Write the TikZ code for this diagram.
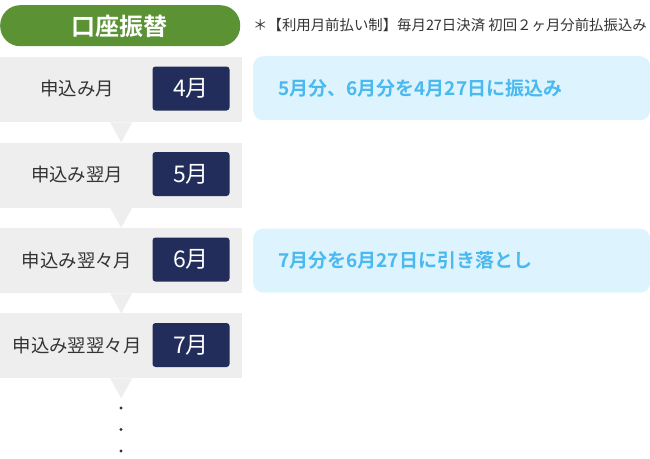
\documentclass[tikz,border=0pt]{standalone}
\usepackage{fontspec}
\setmainfont{Noto Sans CJK JP}
\newfontfamily\jpbold{Noto Sans CJK JP Bold}
\newfontfamily\jplight{Noto Sans CJK JP Light}
\definecolor{pillgreen}{HTML}{5A9234}
\definecolor{bandgray}{HTML}{EEEEEE}
\definecolor{navy}{HTML}{222D5B}
\definecolor{skybg}{HTML}{DDF3FD}
\definecolor{skytext}{HTML}{4AB9EF}
\definecolor{txtgray}{HTML}{333333}
\begin{document}
\begin{tikzpicture}[x=1pt,y=-1pt,
  band/.style={fill=bandgray, minimum width=242pt, minimum height=65pt, inner sep=0pt, anchor=north west},
  monthbox/.style={fill=navy, rounded corners=3pt, minimum width=77pt, minimum height=44pt, inner sep=0pt, text=white, font=\fontsize{23}{25}\selectfont},
  lab/.style={text=txtgray, font=\fontsize{18.4}{20}\selectfont, inner sep=0pt},
  infobox/.style={fill=skybg, rounded corners=10pt, minimum width=397pt, minimum height=64pt, inner sep=0pt, anchor=north west},
  infotext/.style={text=skytext, font=\jpbold\fontsize{19}{21}\selectfont, inner sep=0pt, anchor=west},
  tri/.style={fill=bandgray},
  dot/.style={fill=txtgray}]
\useasboundingbox (0,0) rectangle (650,458);

% header
\node[fill=pillgreen, rounded corners=20pt, minimum width=240pt, minimum height=41pt, inner sep=0pt, anchor=north west] (pill) at (0,5) {};
\node[text=white, font=\jpbold\fontsize{24}{26}\selectfont, inner sep=0pt] (pilltext) at (119,26) {口座振替};
\node[text=txtgray, font=\fontsize{14.4}{16}\selectfont, inner sep=0pt, anchor=west] (note) at (253,25) {＊【利用月前払い制】毎月27日決済 初回２ヶ月分前払振込み};

% bands
\node[band] (b1) at (0,57) {};
\node[band] (b2) at (0,142.5) {};
\node[band] (b3) at (0,228) {};
\node[band] (b4) at (0,313) {};

% triangles
\foreach \b in {b1,b2,b3,b4}{
  \fill[tri] ([xshift=-11pt]\b.south) -- ([xshift=11pt]\b.south) -- ([yshift=-20pt]\b.south) -- cycle;
}

% labels
\node[lab] (l1) at (77,89) {申込み月};
\node[lab] (l2) at (77,175) {申込み翌月};
\node[lab] (l3) at (77,260.5) {申込み翌々月};
\node[lab] (l4) at (77,345.5) {申込み翌翌々月};

% month boxes
\node[monthbox] (m1) at (191,88.5) {4月};
\node[monthbox] (m2) at (191,174) {5月};
\node[monthbox] (m3) at (191,259.5) {6月};
\node[monthbox] (m4) at (191,345) {7月};

% info boxes
\node[infobox] (i1) at (253,56) {};
\node[infobox] (i2) at (253,228.5) {};
\node[infotext] (t1) at (278,88) {5月分、6月分を4月27日に振込み};
\node[infotext] (t2) at (278,260.5) {7月分を6月27日に引き落とし};

% dots
\fill[dot] (121,408) circle (1.6pt);
\fill[dot] (121,429.5) circle (1.6pt);
\fill[dot] (121,451) circle (1.6pt);
\end{tikzpicture}
\end{document}
